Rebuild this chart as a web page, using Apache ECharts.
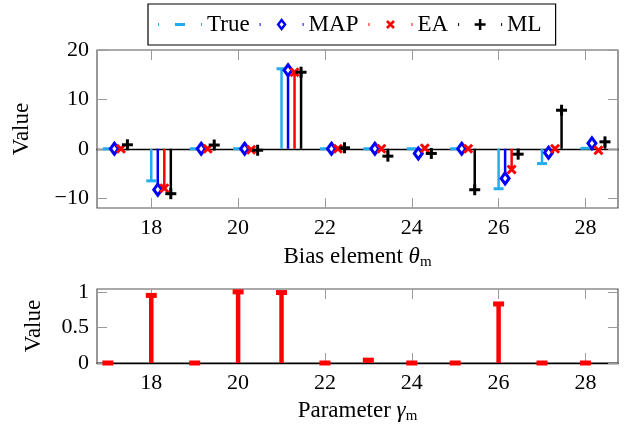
<!DOCTYPE html>
<html>
<head>
<meta charset="utf-8">
<script src="https://cdn.jsdelivr.net/npm/echarts@6/dist/echarts.min.js"></script>
<style>
  html, body { margin: 0; padding: 0; background: #fff; }
  #chart { width: 626px; height: 425px; }
</style>
</head>
<body>
<div id="chart"></div>
<script>
// bias elements m = 17..28
const elements = [17, 18, 19, 20, 21, 22, 23, 24, 25, 26, 27, 28];
const trueVals = [0, -6.5, 0, 0, 16.2, 0, 0, 0, 0, -8.1, -3.0, 0.1];
const mapVals = [0, -8.3, 0, 0, 15.9, 0, 0, -0.95, 0, -6.0, -0.8, 1.1];
const eaVals = [0, -8.0, 0, -0.2, 15.5, 0, 0, 0.1, 0, -4.2, 0, -0.3];
const mlVals = [0.8, -9.1, 0.75, -0.3, 15.5, 0.2, -1.5, -0.95, -8.3, -1.1, 7.8, 1.4];
const gammaVals = [0, 0.95, 0, 1.0, 0.99, 0, 0.04, 0, 0, 0.83, 0, 0];

const xTicks = [18, 20, 22, 24, 26, 28];
const yTicksTop = [-10, 0, 10, 20];
const yTicksBottom = [0, 0.5, 1];

const FONT = 'Liberation Serif';
const FS = 22;
const C_TRUE = '#22adee', C_MAP = '#0000ff', C_EA = '#ff0000', C_ML = '#000000';
const FRAME = '#555', TICK = '#9a9a9a';

// stem offsets per method so the four stems sit side by side
const offsets = { True: 0, MAP: 0.15, EA: 0.3, ML: 0.45 };

function marker(kind, cx, cy, color) {
  if (kind === 'dash') {
    return { type: 'rect', shape: { x: cx - 5, y: cy - 1.5, width: 10, height: 3 }, style: { fill: color } };
  }
  if (kind === 'diamond') {
    return { type: 'polygon', shape: { points: [[cx, cy - 5.5], [cx + 4, cy], [cx, cy + 5.5], [cx - 4, cy]] },
      style: { fill: '#fff', stroke: color, lineWidth: 3 } };
  }
  if (kind === 'cross') {
    return { type: 'group', children: [
      { type: 'line', shape: { x1: cx - 4, y1: cy - 4, x2: cx + 4, y2: cy + 4 }, style: { stroke: color, lineWidth: 3 } },
      { type: 'line', shape: { x1: cx - 4, y1: cy + 4, x2: cx + 4, y2: cy - 4 }, style: { stroke: color, lineWidth: 3 } }
    ] };
  }
  if (kind === 'plus') {
    return { type: 'group', children: [
      { type: 'line', shape: { x1: cx - 5.5, y1: cy, x2: cx + 5.5, y2: cy }, style: { stroke: color, lineWidth: 3 } },
      { type: 'line', shape: { x1: cx, y1: cy - 5.5, x2: cx, y2: cy + 5.5 }, style: { stroke: color, lineWidth: 3 } }
    ] };
  }
  // cap for the lower plot
  return { type: 'rect', shape: { x: cx - 5.5, y: cy - 2.5, width: 11, height: 5 }, style: { fill: color } };
}

function stemRender(kind, color, width) {
  return function (params, api) {
    const x = api.value(0), y = api.value(1);
    const p0 = api.coord([x, 0]);
    const p1 = api.coord([x, y]);
    return {
      type: 'group',
      children: [
        { type: 'line', shape: { x1: p0[0], y1: p0[1], x2: p1[0], y2: p1[1] }, style: { stroke: color, lineWidth: width } },
        marker(kind, p1[0], p1[1], color)
      ]
    };
  };
}

function stemSeries(name, vals, kind, color) {
  return {
    name: name,
    type: 'custom',
    xAxisIndex: 0,
    yAxisIndex: 0,
    itemStyle: { color: color },
    encode: { x: 0, y: 1 },
    data: elements.map((m, i) => [m + offsets[name], vals[i]]),
    renderItem: stemRender(kind, color, 2.5),
    z: 3
  };
}

const minus = v => (v < 0 ? '\u2212' + Math.abs(v) : String(v));

const nameRich = {
  r: { fontFamily: FONT, fontSize: 23, color: '#000', lineHeight: 26 },
  i: { fontFamily: FONT, fontSize: 23, fontStyle: 'italic', color: '#000', lineHeight: 26 },
  s: { fontFamily: FONT, fontSize: 15, color: '#000', lineHeight: 14, verticalAlign: 'bottom' }
};

function xAxisBase(grid, pos, labels) {
  return {
    type: 'value', gridIndex: grid, position: pos, min: 16.75, max: 28.75,
    axisLine: { show: false, onZero: false },
    axisTick: { show: true, inside: true, length: 10, customValues: xTicks, lineStyle: { color: TICK, width: 1 } },
    axisLabel: { show: labels, customValues: xTicks, margin: 9, fontFamily: FONT, fontSize: FS, color: '#000' },
    splitLine: { show: false }
  };
}

function yAxisBase(grid, pos, min, max, ticks, labels) {
  return {
    type: 'value', gridIndex: grid, position: pos, min: min, max: max,
    axisLine: { show: false, onZero: false },
    axisTick: { show: true, inside: true, length: 10, customValues: ticks, lineStyle: { color: TICK, width: 1 } },
    axisLabel: { show: labels, customValues: ticks, margin: 8, fontFamily: FONT, fontSize: FS, color: '#000', formatter: minus },
    splitLine: { show: false }
  };
}

const xTop = xAxisBase(0, 'bottom', true);
xTop.name = '{r|Bias element }{i|θ}{s|m}';
xTop.nameLocation = 'middle';
xTop.nameGap = 36;
xTop.nameTextStyle = { rich: nameRich };

const xBottom = xAxisBase(1, 'bottom', true);
xBottom.axisLine = { show: true, onZero: false, lineStyle: { color: '#000', width: 1.3 } };
xBottom.name = '{r|Parameter }{i|γ}{s|m}';
xBottom.nameLocation = 'middle';
xBottom.nameGap = 35;
xBottom.nameTextStyle = { rich: nameRich };

// zero line of the upper plot
const xZero = {
  type: 'value', gridIndex: 0, position: 'bottom', min: 16.75, max: 28.75,
  axisLine: { show: true, onZero: true, onZeroAxisIndex: 0, lineStyle: { color: '#000', width: 1.3 } },
  axisTick: { show: false }, axisLabel: { show: false }, splitLine: { show: false }
};

const yTopL = yAxisBase(0, 'left', -12, 20, yTicksTop, true);
yTopL.name = 'Value';
yTopL.nameLocation = 'middle';
yTopL.nameGap = 63;
yTopL.nameTextStyle = { fontFamily: FONT, fontSize: 23, color: '#000', lineHeight: 24 };

const yBotL = yAxisBase(1, 'left', 0, 1.04, yTicksBottom, true);
yBotL.name = 'Value';
yBotL.nameLocation = 'middle';
yBotL.nameGap = 51;
yBotL.nameTextStyle = { fontFamily: FONT, fontSize: 23, color: '#000', lineHeight: 24 };

const box = 'M0,0 M44,14 ';
const bits = 'M0,5.5 L1,5.5 L1,8.5 L0,8.5 Z M43,5.5 L44,5.5 L44,8.5 L43,8.5 Z ';
const icons = {
  True: 'path://' + box + bits + 'M17,5.5 L27,5.5 L27,8.5 L17,8.5 Z',
  MAP: 'path://' + box + bits + 'M22,0.5 L27,7 L22,13.5 L17,7 Z M22,4.5 L20,7 L22,9.5 L24,7 Z',
  EA: 'path://' + box + bits + 'M19.4,2.6 L26.4,9.6 L24.6,11.4 L17.6,4.4 Z M26.4,4.4 L19.4,11.4 L17.6,9.6 L24.6,2.6 Z',
  ML: 'path://' + box + bits + 'M20.75,1.5 L23.25,1.5 L23.25,5.75 L27.5,5.75 L27.5,8.25 L23.25,8.25 L23.25,12.5 L20.75,12.5 L20.75,8.25 L16.5,8.25 L16.5,5.75 L20.75,5.75 Z'
};

const chart = echarts.init(document.getElementById('chart'), null, { renderer: 'canvas' });
chart.setOption({
  animation: false,
  backgroundColor: '#fff',
  legend: {
    left: 148, top: 4,
    padding: [9, 14, 9, 10],
    itemWidth: 44, itemHeight: 14, itemGap: 10,
    borderColor: '#000', borderWidth: 1.2,
    textStyle: { fontFamily: FONT, fontSize: 23, color: '#000' },
    selectedMode: false,
    data: [
      { name: 'True', icon: icons.True, itemStyle: { color: C_TRUE, borderWidth: 0 } },
      { name: 'MAP', icon: icons.MAP, itemStyle: { color: C_MAP, borderWidth: 0 } },
      { name: 'EA', icon: icons.EA, itemStyle: { color: C_EA, borderWidth: 0 } },
      { name: 'ML', icon: icons.ML, itemStyle: { color: C_ML, borderWidth: 0 } }
    ]
  },
  grid: [
    { left: 97, right: 8, top: 50, height: 158, show: true, borderColor: FRAME, borderWidth: 1.2, backgroundColor: 'transparent' },
    { left: 97, right: 8, top: 289, height: 75, show: true, borderColor: FRAME, borderWidth: 1.2, backgroundColor: 'transparent' }
  ],
  xAxis: [
    xTop,
    xAxisBase(0, 'top', false),
    xBottom,
    xAxisBase(1, 'top', false),
    xZero
  ],
  yAxis: [
    yTopL,
    yAxisBase(0, 'right', -12, 20, yTicksTop, false),
    yBotL,
    yAxisBase(1, 'right', 0, 1.04, yTicksBottom, false)
  ],
  series: [
    stemSeries('True', trueVals, 'dash', C_TRUE),
    stemSeries('MAP', mapVals, 'diamond', C_MAP),
    stemSeries('EA', eaVals, 'cross', C_EA),
    stemSeries('ML', mlVals, 'plus', C_ML),
    {
      name: 'gamma',
      type: 'custom',
      xAxisIndex: 2,
      yAxisIndex: 2,
      itemStyle: { color: C_EA },
      encode: { x: 0, y: 1 },
      data: elements.map((m, i) => [m, gammaVals[i]]),
      renderItem: stemRender('cap', C_EA, 4.5),
      clip: false,
      z: 3
    }
  ]
});
</script>
</body>
</html>
